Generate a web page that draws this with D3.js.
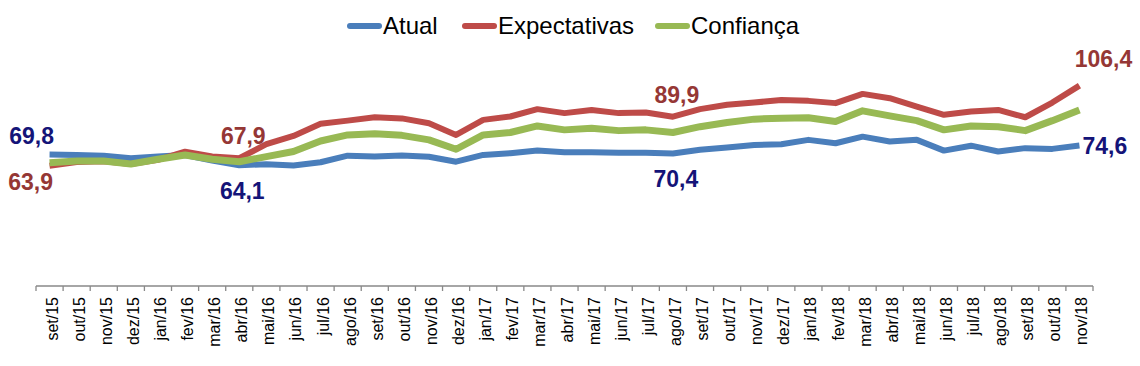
<!DOCTYPE html>
<html>
<head>
<meta charset="utf-8">
<script src="https://cdn.jsdelivr.net/npm/d3@7"></script>
<style>
  body { margin: 0; background: #fff; }
  text { font-family: "Liberation Sans", Arial, sans-serif; }
</style>
</head>
<body>
<div id="chart"></div>
<script>
// months on the x axis
var months = ["set/15","out/15","nov/15","dez/15","jan/16","fev/16","mar/16","abr/16","mai/16","jun/16",
  "jul/16","ago/16","set/16","out/16","nov/16","dez/16","jan/17","fev/17","mar/17","abr/17",
  "mai/17","jun/17","jul/17","ago/17","set/17","out/17","nov/17","dez/17","jan/18","fev/18",
  "mar/18","abr/18","mai/18","jun/18","jul/18","ago/18","set/18","out/18","nov/18"]

// series values
var atual = [69.8,69.6,69.2,67.8,68.8,69.5,66.6,64.1,64.7,64.0,
  65.7,69.2,68.7,69.3,68.6,66.0,69.6,70.5,71.9,71.0,
  71.0,70.8,70.8,70.4,72.3,73.5,74.9,75.3,77.6,75.8,
  79.3,76.7,77.6,71.9,74.5,71.4,73.2,72.8,74.6]

var expectativas = [63.9,65.8,66.2,64.8,67.0,71.3,68.8,67.9,75.3,79.7,
  86.1,87.8,89.6,89.0,86.4,80.2,88.2,90.0,93.9,91.8,
  93.5,91.8,92.1,89.9,93.9,96.2,97.4,98.8,98.3,97.1,
  102.0,99.7,95.3,90.9,92.6,93.5,89.6,97.4,106.4]

var confianca = [65.5,66.4,66.4,64.8,67.3,69.6,67.3,66.0,68.7,71.4,
  77.0,80.2,80.9,80.0,77.6,72.6,80.2,81.5,85.0,82.9,
  83.8,82.5,82.9,81.5,84.6,86.8,88.6,89.1,89.3,87.3,
  93.0,90.3,87.8,82.9,85.0,84.6,82.5,87.8,93.5]

var seriesNames = ["Atual", "Expectativas", "Confiança"]
var seriesColors = ["#4A7EBB", "#BE4B48", "#98B954"]

// labelled points: series index, month index, where the text sits
var labelSeries = [0, 1, 1, 0, 1, 0, 1, 0]
var labelMonth  = [0, 0, 7, 7, 23, 23, 38, 38]
var labelSide   = ["aboveLeft", "belowLeft", "above", "below", "above", "below", "aboveRight", "right"]
var labelColors = ["#141478", "#953735"]

var width = 1140
var height = 366

var svg = d3.select("#chart").append("svg")
  .attr("width", width)
  .attr("height", height)

var x = d3.scaleBand().domain(months).range([36, 1093])
var y = d3.scaleLinear().domain([0, 120]).range([286, 60])

var allSeries = [atual, expectativas, confianca]

// category axis, ticks between the categories
var axis = svg.append("g").attr("transform", "translate(0,286)")
axis.append("line")
  .attr("x1", x.range()[0]).attr("x2", x.range()[1])
  .attr("stroke", "#898989").attr("stroke-width", 1.3)
axis.selectAll(".tick-mark").data(d3.range(months.length + 1)).enter().append("line")
  .attr("class", "tick-mark")
  .attr("x1", d => x.range()[0] + d * x.step())
  .attr("x2", d => x.range()[0] + d * x.step())
  .attr("y1", 0).attr("y2", 5)
  .attr("stroke", "#898989").attr("stroke-width", 1.3)
axis.selectAll(".tick-label").data(months).enter().append("text")
  .attr("class", "tick-label")
  .attr("transform", d => "translate(" + (x(d) + x.bandwidth() / 2 + 8) + ",11) rotate(-90)")
  .attr("text-anchor", "end")
  .attr("font-size", 16)
  .attr("fill", "#000")
  .text(d => d)

// the lines
var line = d3.line()
  .x((d, i) => x(months[i]) + x.bandwidth() / 2)
  .y(d => y(d))

svg.selectAll(".series").data(allSeries).enter().append("path")
  .attr("class", "series")
  .attr("d", d => line(d))
  .attr("fill", "none")
  .attr("stroke", (d, i) => seriesColors[i])
  .attr("stroke-width", (d, i) => i == 2 ? 7 : 6)
  .attr("stroke-linejoin", "round")

// data labels
var fmt = v => String(v.toFixed(1)).replace(".", ",")
labelSeries.forEach(function (s, k) {
  var i = labelMonth[k]
  var v = allSeries[s][i]
  var px = x(months[i]) + x.bandwidth() / 2
  var py = y(v)
  var side = labelSide[k]
  var dx = 0, dy = 0, anchor = "middle"
  if (side == "above") { dx = 4; dy = -14 }
  if (side == "below") { dx = 3; dy = 34 }
  if (side == "aboveLeft") { dx = -18; dy = -11 }
  if (side == "belowLeft") { dx = -19; dy = 24 }
  if (side == "aboveRight") { dx = 24; dy = -19 }
  if (side == "right") { dx = 3; dy = 8; anchor = "start" }
  svg.append("text")
    .attr("x", px + dx)
    .attr("y", py + dy)
    .attr("text-anchor", anchor)
    .attr("font-size", 23)
    .attr("font-weight", "bold")
    .attr("fill", labelColors[s == 0 ? 0 : 1])
    .text(fmt(v))
})

// legend
var legendX = [347, 462, 655]
var legend = svg.selectAll(".legend").data(seriesNames).enter().append("g")
  .attr("class", "legend")
  .attr("transform", (d, i) => "translate(" + legendX[i] + ",26)")
legend.append("line")
  .attr("x1", 3).attr("x2", 32)
  .attr("stroke", (d, i) => seriesColors[i])
  .attr("stroke-width", 6)
  .attr("stroke-linecap", "round")
legend.append("text")
  .attr("x", 36).attr("y", 8)
  .attr("font-size", 24)
  .attr("fill", "#000")
  .text(d => d)
</script>
</body>
</html>
